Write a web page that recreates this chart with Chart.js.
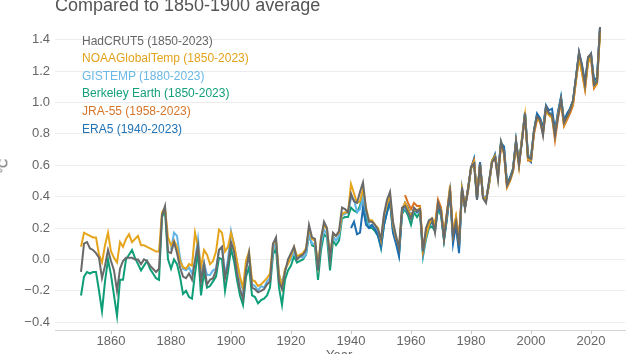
<!DOCTYPE html>
<html>
<head>
<meta charset="utf-8">
<script src="https://cdn.jsdelivr.net/npm/chart.js@4.4.1/dist/chart.umd.min.js"></script>
<style>
  body { margin: 0; background: #fff; font-family: "Liberation Sans", Arial, sans-serif; }
  #wrap { position: relative; width: 630px; height: 354px; overflow: hidden; }
  #title { position: absolute; left: 55px; top: -5px; font-size: 18px; line-height: 20px; color: #555; white-space: nowrap; }
  #unit { position: absolute; left: -4px; top: 158px; font-size: 13px; line-height: 16px; color: #666; transform: rotate(-90deg); }
  #xname { position: absolute; left: 326px; top: 347px; font-size: 13px; line-height: 16px; color: #666; }
  .lg { position: absolute; left: 82px; font-size: 12px; line-height: 14px; white-space: nowrap; }
</style>
</head>
<body>
<div id="wrap">
  <canvas id="c" width="630" height="354"></canvas>
  <div id="title">Compared to 1850-1900 average</div>
  <div id="unit">°C</div>
  <div id="xname">Year</div>
  <div id="legend"></div>
</div>
<script>
// series names, colours, first year
const names = ["HadCRUT5 (1850-2023)", "NOAAGlobalTemp (1850-2023)", "GISTEMP (1880-2023)", "Berkeley Earth (1850-2023)", "JRA-55 (1958-2023)", "ERA5 (1940-2023)"];
const legendColors = ["#666666", "#e3a21c", "#6ab8e6", "#14a07a", "#d6762a", "#2272b4"];
const lineColors = ["#696969", "#e6a41b", "#62b5e8", "#0e9e78", "#d9701e", "#1d6db0"];
const startYears = [1850, 1850, 1880, 1850, 1958, 1940];

const xTicks = [1860, 1880, 1900, 1920, 1940, 1960, 1980, 2000, 2020];
const yTicks = [-0.4, -0.2, 0.0, 0.2, 0.4, 0.6, 0.8, 1.0, 1.2, 1.4];

const hadcrut5 = [
  -0.08, 0.10, 0.11, 0.07, 0.06, 0.04, 0.01, -0.12, -0.04, 0.06,
  -0.01, -0.07, -0.20, -0.06, -0.01, 0.01, 0.01, 0.01, 0.00, 0.00,
  -0.03, 0.00, -0.01, -0.04, -0.06, -0.08, -0.06, 0.28, 0.34, 0.05,
  0.04, 0.11, 0.04, -0.05, -0.11, -0.12, -0.09, -0.13, -0.01, 0.09,
  -0.14, -0.03, -0.16, -0.13, -0.12, -0.07, 0.06, 0.08, -0.12, -0.03,
  0.11, 0.05, -0.09, -0.19, -0.25, -0.07, 0.04, -0.18, -0.19, -0.21,
  -0.20, -0.19, -0.16, -0.14, 0.10, 0.14, -0.14, -0.19, -0.08, 0.00,
  0.04, 0.08, 0.00, 0.02, 0.03, 0.06, 0.22, 0.14, 0.13, -0.07,
  0.13, 0.24, 0.20, 0.00, 0.17, 0.15, 0.18, 0.33, 0.32, 0.30,
  0.42, 0.37, 0.36, 0.43, 0.49, 0.32, 0.24, 0.24, 0.22, 0.19,
  0.13, 0.29, 0.38, 0.43, 0.24, 0.15, 0.07, 0.33, 0.34, 0.30,
  0.26, 0.33, 0.31, 0.32, 0.05, 0.20, 0.25, 0.26, 0.17, 0.36,
  0.31, 0.13, 0.30, 0.44, 0.15, 0.24, 0.09, 0.46, 0.33, 0.44,
  0.59, 0.61, 0.38, 0.61, 0.39, 0.36, 0.50, 0.62, 0.65, 0.51,
  0.75, 0.68, 0.47, 0.51, 0.57, 0.75, 0.60, 0.76, 0.93, 0.65,
  0.64, 0.82, 0.91, 0.89, 0.79, 0.97, 0.93, 0.92, 0.79, 0.91,
  1.02, 0.87, 0.91, 0.95, 1.01, 1.16, 1.32, 1.23, 1.11, 1.29,
  1.31, 1.11, 1.13, 1.48
];
const noaa = [
  0.08, 0.17, 0.16, 0.15, 0.14, 0.14, 0.03, -0.02, 0.09, 0.17,
  0.05, 0.01, -0.02, 0.11, 0.08, 0.13, 0.16, 0.11, 0.13, 0.15,
  0.09, 0.09, 0.08, 0.07, 0.06, 0.05, 0.05, 0.30, 0.33, 0.14,
  0.09, 0.12, 0.08, -0.01, -0.05, -0.06, -0.03, -0.04, 0.17, 0.08,
  -0.05, 0.06, 0.03, -0.03, -0.01, 0.05, 0.19, 0.17, 0.05, 0.08,
  0.17, 0.10, -0.01, -0.11, -0.18, -0.01, 0.05, -0.13, -0.14, -0.17,
  -0.16, -0.14, -0.12, -0.09, 0.10, 0.12, -0.09, -0.18, -0.06, -0.03,
  0.02, 0.08, 0.02, 0.03, 0.04, 0.07, 0.20, 0.13, 0.12, -0.04,
  0.14, 0.22, 0.19, 0.03, 0.16, 0.15, 0.17, 0.29, 0.30, 0.30,
  0.48, 0.42, 0.36, 0.37, 0.45, 0.33, 0.25, 0.25, 0.22, 0.20,
  0.12, 0.28, 0.35, 0.41, 0.22, 0.14, 0.08, 0.32, 0.36, 0.32,
  0.27, 0.32, 0.31, 0.33, 0.06, 0.15, 0.22, 0.26, 0.23, 0.35,
  0.32, 0.15, 0.30, 0.47, 0.16, 0.27, 0.11, 0.45, 0.35, 0.43,
  0.58, 0.62, 0.40, 0.60, 0.40, 0.38, 0.48, 0.63, 0.66, 0.52,
  0.73, 0.67, 0.46, 0.50, 0.56, 0.74, 0.59, 0.78, 0.92, 0.64,
  0.63, 0.81, 0.90, 0.88, 0.81, 0.95, 0.92, 0.90, 0.79, 0.92,
  1.01, 0.86, 0.90, 0.95, 0.99, 1.14, 1.28, 1.19, 1.09, 1.25,
  1.29, 1.10, 1.12, 1.45
];
const gistemp = [
  0.06, 0.17, 0.15, 0.01, -0.06, -0.07, -0.05, -0.09, -0.01, 0.13,
  -0.08, -0.02, -0.10, -0.10, -0.07, -0.06, 0.06, 0.08, -0.10, 0.00,
  0.18, 0.09, -0.02, -0.13, -0.20, -0.06, 0.02, -0.16, -0.17, -0.20,
  -0.17, -0.18, -0.14, -0.12, 0.05, 0.12, -0.10, -0.15, -0.07, -0.02,
  0.00, 0.05, 0.00, 0.02, 0.01, 0.03, 0.16, 0.10, 0.10, -0.05,
  0.10, 0.19, 0.16, 0.01, 0.15, 0.12, 0.15, 0.28, 0.29, 0.30,
  0.39, 0.38, 0.30, 0.32, 0.40, 0.30, 0.22, 0.21, 0.20, 0.17,
  0.08, 0.24, 0.32, 0.38, 0.19, 0.12, 0.04, 0.30, 0.33, 0.30,
  0.26, 0.32, 0.30, 0.31, 0.03, 0.15, 0.22, 0.24, 0.19, 0.34,
  0.30, 0.14, 0.27, 0.44, 0.13, 0.22, 0.08, 0.44, 0.33, 0.44,
  0.58, 0.64, 0.38, 0.61, 0.41, 0.38, 0.47, 0.62, 0.66, 0.55,
  0.74, 0.70, 0.48, 0.51, 0.57, 0.74, 0.62, 0.76, 0.92, 0.66,
  0.66, 0.82, 0.92, 0.90, 0.83, 0.98, 0.93, 0.93, 0.81, 0.94,
  1.04, 0.88, 0.92, 0.96, 1.01, 1.16, 1.31, 1.22, 1.12, 1.27,
  1.31, 1.14, 1.15, 1.48
];
const berkeley = [
  -0.23, -0.11, -0.08, -0.09, -0.08, -0.08, -0.20, -0.33, -0.14, 0.00,
  -0.10, -0.23, -0.36, -0.13, -0.13, 0.00, 0.03, 0.06, 0.01, -0.03,
  -0.07, -0.04, -0.01, -0.06, -0.09, -0.12, -0.13, 0.27, 0.31, 0.00,
  -0.06, 0.00, -0.03, -0.11, -0.22, -0.20, -0.24, -0.25, -0.09, 0.05,
  -0.23, -0.08, -0.18, -0.17, -0.14, -0.11, 0.01, 0.00, -0.20, -0.08,
  0.07, -0.01, -0.13, -0.23, -0.29, -0.11, -0.05, -0.23, -0.24, -0.28,
  -0.26, -0.25, -0.23, -0.18, 0.03, 0.07, -0.18, -0.29, -0.13, -0.07,
  -0.04, 0.02, -0.02, -0.01, 0.00, 0.03, 0.16, 0.09, 0.08, -0.13,
  0.06, 0.16, 0.14, -0.07, 0.12, 0.09, 0.12, 0.26, 0.27, 0.27,
  0.33, 0.31, 0.30, 0.34, 0.43, 0.27, 0.20, 0.20, 0.18, 0.15,
  0.07, 0.22, 0.30, 0.36, 0.18, 0.12, 0.03, 0.29, 0.32, 0.28,
  0.22, 0.30, 0.27, 0.30, 0.02, 0.13, 0.20, 0.21, 0.18, 0.32,
  0.28, 0.12, 0.26, 0.43, 0.14, 0.21, 0.07, 0.44, 0.33, 0.45,
  0.58, 0.63, 0.39, 0.61, 0.40, 0.38, 0.49, 0.63, 0.66, 0.54,
  0.75, 0.70, 0.48, 0.52, 0.58, 0.75, 0.61, 0.77, 0.93, 0.66,
  0.65, 0.82, 0.92, 0.90, 0.82, 0.97, 0.93, 0.93, 0.80, 0.93,
  1.03, 0.88, 0.91, 0.96, 1.01, 1.16, 1.30, 1.21, 1.11, 1.27,
  1.30, 1.13, 1.14, 1.47
];
const jra55 = [
  0.41, 0.36,
  0.32, 0.36, 0.34, 0.34, 0.06, 0.18, 0.23, 0.26, 0.22, 0.38,
  0.33, 0.15, 0.30, 0.45, 0.16, 0.27, 0.14, 0.43, 0.33, 0.45,
  0.58, 0.63, 0.40, 0.60, 0.40, 0.37, 0.48, 0.62, 0.65, 0.53,
  0.73, 0.68, 0.46, 0.50, 0.56, 0.74, 0.60, 0.76, 0.91, 0.63,
  0.63, 0.80, 0.89, 0.88, 0.80, 0.96, 0.92, 0.91, 0.76, 0.90,
  1.00, 0.85, 0.89, 0.93, 0.98, 1.14, 1.29, 1.19, 1.08, 1.26,
  1.28, 1.09, 1.12, 1.46
];
const era5 = [
  0.20, 0.24, 0.16, 0.17, 0.33, 0.22, 0.20, 0.22, 0.19, 0.15,
  0.08, 0.22, 0.30, 0.38, 0.17, 0.10, 0.02, 0.30, 0.36, 0.33,
  0.27, 0.32, 0.30, 0.32, 0.05, 0.16, 0.21, 0.24, 0.20, 0.34,
  0.30, 0.13, 0.27, 0.44, 0.10, 0.22, 0.04, 0.45, 0.33, 0.45,
  0.58, 0.64, 0.38, 0.62, 0.40, 0.38, 0.48, 0.62, 0.67, 0.55,
  0.74, 0.72, 0.48, 0.52, 0.57, 0.76, 0.61, 0.76, 0.94, 0.64,
  0.62, 0.82, 0.93, 0.90, 0.84, 0.98, 0.95, 0.96, 0.82, 0.94,
  1.03, 0.88, 0.93, 0.96, 1.01, 1.16, 1.32, 1.24, 1.13, 1.28,
  1.31, 1.14, 1.16, 1.48
];

const series = [hadcrut5, noaa, gistemp, berkeley, jra55, era5];

// html legend inside the plot
const legend = document.getElementById('legend');
names.forEach(function(n, i) {
  const d = document.createElement('div');
  d.className = 'lg';
  d.style.top = (33.5 + i * 17.6) + 'px';
  d.style.color = legendColors[i];
  d.textContent = n;
  legend.appendChild(d);
});

// first dataset is painted last, so grey ends up on top
const drawOrder = [0, 1, 4, 5, 2, 3];
const datasets = drawOrder.map(function(k) {
  return {
    label: names[k],
    data: series[k].map(function(v, i) { return { x: startYears[k] + i, y: v }; }),
    borderColor: lineColors[k],
    borderWidth: 2,
    pointRadius: 0,
    tension: 0,
    fill: false
  };
});

Chart.defaults.font.family = '"Liberation Sans", Arial, sans-serif';

new Chart(document.getElementById('c'), {
  type: 'line',
  data: { datasets: datasets },
  options: {
    responsive: false,
    devicePixelRatio: 1,
    animation: false,
    layout: { padding: { top: 24, right: 5, left: 0, bottom: 0 } },
    plugins: { legend: { display: false }, tooltip: { enabled: false } },
    scales: {
      x: {
        type: 'linear',
        min: 1841.33,
        max: 2031.33,
        afterFit: function(s) { s.height = 24; },
        afterBuildTicks: function(s) { s.ticks = xTicks.map(function(v) { return { value: v }; }); },
        ticks: {
          color: '#666',
          font: { size: 13 },
          padding: 0,
          maxRotation: 0,
          callback: function(v) { return String(v); }
        },
        grid: { drawOnChartArea: false, drawTicks: true, tickLength: 4, color: '#c8c8c8' },
        border: { display: true, color: '#d4d4d4', width: 1 }
      },
      y: {
        min: -0.45,
        max: 1.5,
        afterFit: function(s) { s.width = 55; },
        afterBuildTicks: function(s) { s.ticks = yTicks.map(function(v) { return { value: v }; }); },
        ticks: {
          color: '#666',
          font: { size: 13 },
          padding: 5,
          callback: function(v) { return (v < 0 ? '\u2212' : '') + Math.abs(v).toFixed(1); }
        },
        grid: { color: '#ececec', drawTicks: false },
        border: { display: false }
      }
    }
  }
});
</script>
</body>
</html>
